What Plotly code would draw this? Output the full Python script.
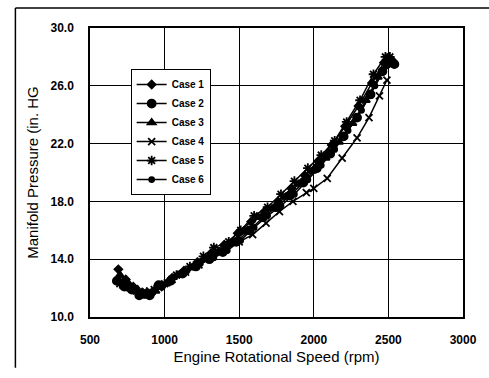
import plotly.graph_objects as go

case_names = ["Case 1", "Case 2", "Case 3", "Case 4", "Case 5", "Case 6"]
x1 = [690, 740, 790, 850, 910, 980, 1050, 1130, 1220, 1310, 1400, 1490, 1580, 1670, 1760, 1850, 1940, 2030, 2120, 2210, 2300, 2390, 2470, 2520]
y1 = [13.3, 12.6, 12.1, 11.7, 11.6, 12.1, 12.7, 13.2, 13.8, 14.4, 15.0, 15.8, 16.6, 17.3, 18.0, 18.9, 19.8, 20.8, 21.9, 23.2, 24.6, 26.2, 27.6, 27.8]
x2 = [680, 730, 780, 830, 900, 960, 1040, 1120, 1210, 1300, 1390, 1480, 1570, 1660, 1750, 1840, 1930, 2020, 2110, 2200, 2290, 2380, 2460, 2540]
y2 = [12.5, 12.1, 11.9, 11.5, 11.5, 12.2, 12.5, 13.0, 13.5, 14.0, 14.5, 15.2, 16.0, 16.9, 17.6, 18.4, 19.3, 20.3, 21.3, 22.5, 23.8, 25.4, 27.0, 27.5]
x3 = [700, 760, 820, 880, 940, 1010, 1090, 1180, 1270, 1360, 1450, 1540, 1630, 1720, 1810, 1900, 1990, 2080, 2170, 2260, 2350, 2430, 2500]
y3 = [12.9, 12.3, 11.9, 11.7, 11.8, 12.3, 12.9, 13.4, 14.0, 14.5, 15.1, 15.9, 16.9, 17.5, 18.3, 19.2, 20.1, 21.0, 22.1, 23.4, 25.0, 26.6, 27.9]
x4 = [720, 780, 840, 900, 970, 1050, 1140, 1230, 1320, 1410, 1500, 1590, 1680, 1770, 1860, 1950, 2000, 2090, 2190, 2290, 2370, 2440, 2490]
y4 = [12.4, 12.0, 11.7, 11.8, 12.1, 12.6, 13.1, 13.6, 14.2, 14.7, 15.2, 15.7, 16.5, 17.3, 18.0, 18.6, 18.9, 19.6, 21.0, 22.4, 23.8, 25.3, 26.4]
x5 = [700, 750, 810, 870, 930, 1000, 1080, 1170, 1260, 1330, 1430, 1510, 1600, 1690, 1780, 1870, 1960, 2050, 2140, 2220, 2310, 2400, 2480, 2510]
y5 = [12.3, 12.2, 11.8, 11.6, 11.9, 12.3, 12.9, 13.5, 14.2, 14.8, 15.2, 16.0, 17.0, 17.6, 18.5, 19.4, 20.3, 21.2, 22.2, 23.5, 25.0, 26.8, 28.0, 28.0]
x6 = [690, 750, 800, 860, 920, 990, 1070, 1150, 1240, 1330, 1420, 1510, 1600, 1690, 1780, 1870, 1960, 2050, 2140, 2230, 2320, 2410, 2490, 2530]
y6 = [12.6, 12.0, 11.8, 11.5, 11.7, 12.2, 12.8, 13.2, 13.7, 14.1, 14.6, 15.3, 16.2, 17.0, 17.7, 18.5, 19.5, 20.5, 21.6, 22.9, 24.3, 26.0, 27.4, 27.7]

xs = [x1, x2, x3, x4, x5, x6]
ys = [y1, y2, y3, y4, y5, y6]
symbols = ["diamond", "circle", "triangle-up", "x-thin-open", "asterisk-open", "circle"]
sizes = [6, 8, 7, 7, 8, 5]

fig = go.Figure()
for name, x, y, sym, sz in zip(case_names, xs, ys, symbols, sizes):
    fig.add_trace(go.Scatter(
        x=x, y=y, name=name, mode="lines+markers",
        line=dict(color="black", width=1.5),
        marker=dict(symbol=sym, size=sz, color="black",
                    line=dict(color="black", width=1.8)),
    ))

fig.update_layout(
    width=489, height=378,
    margin=dict(l=90, r=24, t=28, b=61),
    paper_bgcolor="white", plot_bgcolor="white",
    font=dict(family="Arial, Liberation Sans, sans-serif", color="black", size=11),
    showlegend=True,
    legend=dict(x=0.109, y=0.858, xanchor="left", yanchor="top",
                bordercolor="black", borderwidth=1, bgcolor="white",
                font=dict(size=10, weight="bold"), tracegroupgap=0, itemwidth=30),
    xaxis=dict(range=[500, 3000], tickvals=[500, 1000, 1500, 2000, 2500, 3000],
               showgrid=True, gridcolor="black", gridwidth=1,
               showline=True, linecolor="black", linewidth=1.5, mirror=True,
               ticks="", zeroline=False, ticklabelstandoff=11,
               tickfont=dict(size=12, weight="bold"),
               title=dict(text="Engine Rotational Speed (rpm)", font=dict(size=15), standoff=5)),
    yaxis=dict(range=[10, 30], tickvals=[10, 14, 18, 22, 26, 30], tickformat=".1f",
               showgrid=True, gridcolor="black", gridwidth=1,
               showline=True, linecolor="black", linewidth=1.5, mirror=True,
               ticks="", zeroline=False, ticklabelstandoff=12,
               tickfont=dict(size=12, weight="bold"),
               title=dict(text="Manifold Pressure (in. HG", font=dict(size=15), standoff=8)),
)

# outer frame lines (scanned figure border)
fig.add_shape(type="line", xref="paper", yref="paper", x0=-0.2, x1=-0.2, y0=1.069, y1=-0.176,
              line=dict(color="black", width=1.5))
fig.add_shape(type="line", xref="paper", yref="paper", x0=-0.2, x1=1.07, y0=1.069, y1=1.069,
              line=dict(color="black", width=1.5))

fig.write_html("out.html")
